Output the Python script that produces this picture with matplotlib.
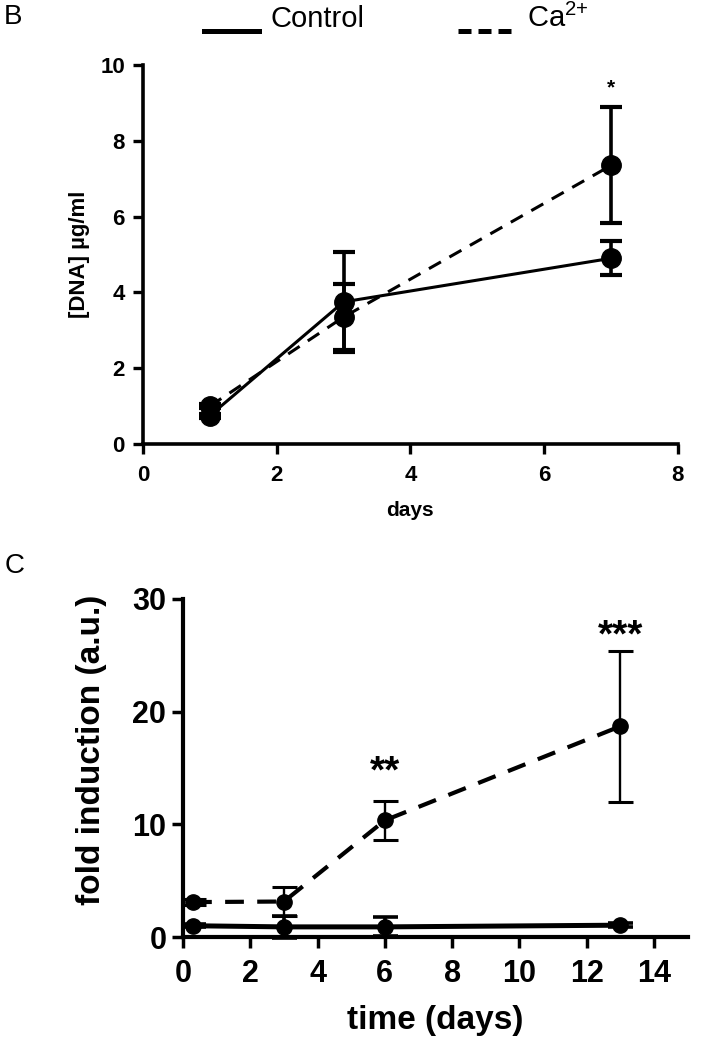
import matplotlib
matplotlib.use('Agg')
import matplotlib.pyplot as plt
from matplotlib.lines import Line2D

# data panel B : DNA content
days_b = [1, 3, 7]
ctrl_b = [0.75, 3.75, 4.9]
ctrl_b_err = [0.05, 1.32, 0.45]
ca_b = [1.0, 3.35, 7.35]
ca_b_err = [0.05, 0.88, 1.53]
b_xticks = [0, 2, 4, 6, 8]
b_yticks = [0, 2, 4, 6, 8, 10]

# data panel C : fold induction
days_c = [0.3, 3, 6, 13]
ctrl_c = [1.0, 0.9, 0.9, 1.05]
ctrl_c_err = [0.15, 0.95, 0.85, 0.15]
ca_c = [3.1, 3.15, 10.35, 18.7]
ca_c_err = [0.3, 1.3, 1.75, 6.7]
c_xticks = [0, 2, 4, 6, 8, 10, 12, 14]
c_yticks = [0, 10, 20, 30]

legend_labels = ['Control', 'Ca$^{2{+}}$']

plt.rcParams['font.family'] = ['Liberation Sans', 'DejaVu Sans']
plt.rcParams['mathtext.default'] = 'regular'

W, H = 701, 1050
fig = plt.figure(figsize=(7.01, 10.5), dpi=100)

# ---- panel B ----
ax1 = fig.add_axes([0.204, 0.5771, 0.763, 0.361])
ax1.errorbar(days_b, ctrl_b, yerr=ctrl_b_err, color='black', lw=2.2, ls='-',
             marker='o', ms=14, elinewidth=2.6, capsize=8, capthick=3, clip_on=False, zorder=3)
ax1.errorbar(days_b, ca_b, yerr=ca_b_err, color='black', lw=2.2, ls=(0, (4.5, 3.2)),
             marker='o', ms=14, elinewidth=2.6, capsize=8, capthick=3, clip_on=False, zorder=3)
ax1.text(7, 9.24, '*', ha='center', va='baseline', fontsize=15, fontweight='bold')
ax1.set_xlim(0, 8)
ax1.set_ylim(0, 10)
ax1.set_xticks(b_xticks)
ax1.set_yticks(b_yticks)
for s in ['top', 'right']:
    ax1.spines[s].set_visible(False)
for s in ['left', 'bottom']:
    ax1.spines[s].set_linewidth(2.6)
ax1.tick_params(axis='both', width=2.4, length=7, labelsize=16)
ax1.tick_params(axis='y', pad=6)
ax1.tick_params(axis='x', pad=8)
for lab in ax1.get_xticklabels() + ax1.get_yticklabels():
    lab.set_fontweight('bold')
ax1.set_xlabel('days', fontsize=15, fontweight='bold')
ax1.xaxis.set_label_coords(0.5, -0.15)
ax1.set_ylabel('[DNA] µg/ml', fontsize=16, fontweight='bold')
ax1.yaxis.set_label_coords(-0.1, 0.5)

# ---- panel C ----
ax2 = fig.add_axes([0.261, 0.1076, 0.720, 0.322])
ax2.errorbar(days_c, ctrl_c, yerr=ctrl_c_err, color='black', lw=3.6, ls='-',
             marker='o', ms=11, elinewidth=2.6, capsize=9, capthick=2.6, clip_on=False, zorder=3)
ax2.errorbar(days_c, ca_c, yerr=ca_c_err, color='black', lw=3, ls=(0, (4.5, 3.2)),
             marker='o', ms=11, elinewidth=1.7, capsize=9, capthick=2.2, clip_on=False, zorder=3)
ax2.text(6, 13.75, '**', ha='center', va='baseline', fontsize=28, fontweight='bold')
ax2.text(13, 25.8, '***', ha='center', va='baseline', fontsize=28, fontweight='bold')
ax2.set_xlim(0, 15)
ax2.set_ylim(0, 30)
ax2.set_xticks(c_xticks)
ax2.set_yticks(c_yticks)
for s in ['top', 'right']:
    ax2.spines[s].set_visible(False)
for s in ['left', 'bottom']:
    ax2.spines[s].set_linewidth(3)
ax2.tick_params(axis='both', width=2.5, length=8, labelsize=22)
ax2.tick_params(axis='y', pad=4)
ax2.tick_params(axis='x', pad=8)
for lab in ax2.get_xticklabels() + ax2.get_yticklabels():
    lab.set_fontweight('bold')
ax2.set_xlabel('time (days)', fontsize=24, fontweight='bold')
ax2.xaxis.set_label_coords(0.5, -0.201)
ax2.set_ylabel('fold induction (a.u.)', fontsize=24, fontweight='bold')
ax2.yaxis.set_label_coords(-0.15, 0.553)

# legend on top, line sits at the text baseline like in the original figure
ly = 1 - 31 / H
fig.add_artist(Line2D([204 / W, 259 / W], [ly, ly], transform=fig.transFigure,
                      color='black', lw=3.6, ls='-'))
fig.add_artist(Line2D([458 / W, 514 / W], [ly, ly], transform=fig.transFigure,
                      color='black', lw=3.6, ls=(0, (2.6, 1.4))))
fig.text(271 / W, 1 - 27 / H, legend_labels[0], ha='left', va='baseline', fontsize=21)
fig.text(527 / W, 1 - 27 / H, legend_labels[1], ha='left', va='baseline', fontsize=21)

# panel letters
fig.text(0.006, 1 - 4 / H, 'B', va='top', ha='left', fontsize=20)
fig.text(0.006, 1 - 553 / H, 'C', va='top', ha='left', fontsize=20)

plt.savefig('out.png', dpi=100)
